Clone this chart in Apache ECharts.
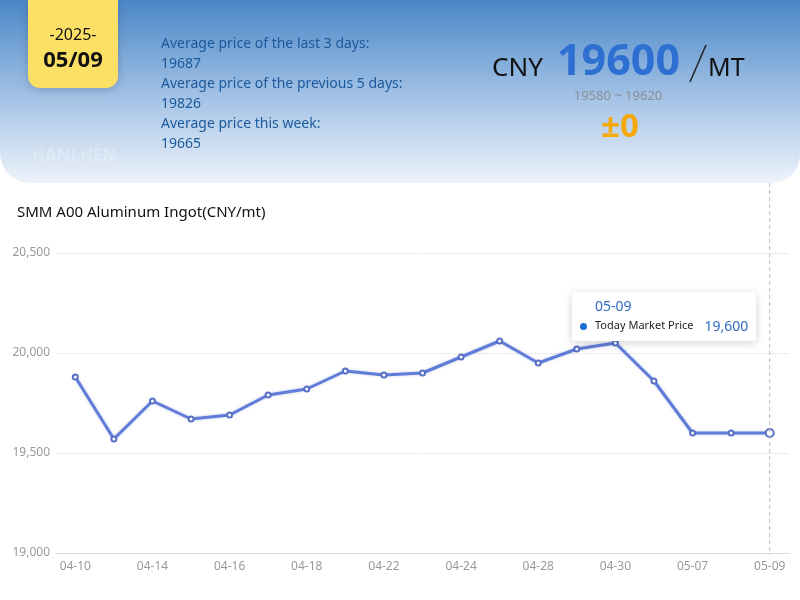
<!DOCTYPE html>
<html>
<head>
<meta charset="utf-8">
<style>
  html, body { margin: 0; padding: 0; background: #fff; }
  #main { width: 800px; height: 600px; }
</style>
<script src="https://cdn.jsdelivr.net/npm/echarts@6/dist/echarts.min.js"></script>
</head>
<body>
<div id="main"></div>
<script>
// trading days shown on the axis
const dates = ['04-10', '04-11', '04-14', '04-15', '04-16', '04-17', '04-18', '04-21', '04-22', '04-23',
  '04-24', '04-25', '04-28', '04-29', '04-30', '05-06', '05-07', '05-08', '05-09']
const prices = [19880, 19570, 19760, 19670, 19690, 19790, 19820, 19910, 19890, 19900,
  19980, 20060, 19950, 20020, 20050, 19860, 19600, 19600, 19600]
const yTicks = [19000, 19500, 20000, 20500]

const infoLines = [
  'Average price of the last 3 days:', '19687',
  'Average price of the previous 5 days:', '19826',
  'Average price this week:', '19665'
]

const font = '"Noto Sans", sans-serif'
const chart = echarts.init(document.getElementById('main'))

const headerGraphics = [
  {
    type: 'rect', z: 10,
    shape: { x: 0, y: 0, width: 800, height: 183, r: [0, 0, 28, 30] },
    style: {
      fill: new echarts.graphic.LinearGradient(0, 0, 0, 1, [
        { offset: 0, color: '#4a87c7' },
        { offset: 0.55, color: '#a6c4e6' },
        { offset: 1, color: '#eef3fa' }
      ])
    }
  },
  {
    type: 'text', z: 11, left: 32, top: 148,
    style: { text: 'HANLHEN', font: 'bold 17px ' + font, fill: 'rgba(255,255,255,0.22)' }
  },
  {
    type: 'rect', z: 12,
    shape: { x: 28, y: 0, width: 90, height: 88, r: [0, 0, 12, 12] },
    style: { fill: '#fce066', shadowBlur: 8, shadowColor: 'rgba(0,0,0,0.18)', shadowOffsetY: 2 }
  },
  {
    type: 'text', z: 13, x: 73, y: 35,
    style: { text: '-2025-', font: '16px ' + font, fill: '#111', align: 'center', verticalAlign: 'middle' }
  },
  {
    type: 'text', z: 13, x: 73, y: 61,
    style: { text: '05/09', font: 'bold 22px ' + font, fill: '#111', align: 'center', verticalAlign: 'middle' }
  },
  {
    type: 'text', z: 13, x: 492, y: 69,
    style: { text: 'CNY', font: '26px ' + font, fill: '#111', verticalAlign: 'middle' }
  },
  {
    type: 'text', z: 13, x: 557, y: 63,
    style: { text: '19600', font: 'bold 43px ' + font, fill: '#2e6fd2', verticalAlign: 'middle' }
  },
  {
    type: 'line', z: 13,
    shape: { x1: 690, y1: 82, x2: 706, y2: 45 },
    style: { stroke: '#222', lineWidth: 1.5 }
  },
  {
    type: 'text', z: 13, x: 708, y: 69,
    style: { text: 'MT', font: '25px ' + font, fill: '#111', verticalAlign: 'middle' }
  },
  {
    type: 'text', z: 13, x: 618, y: 96,
    style: { text: '19580 ~ 19620', font: '13px ' + font, fill: '#8a8f96', align: 'center', verticalAlign: 'middle' }
  },
  {
    type: 'text', z: 13, x: 620, y: 128,
    style: { text: '±0', font: 'bold 33px ' + font, fill: '#f5a90a', align: 'center', verticalAlign: 'middle' }
  },
  {
    type: 'text', z: 13, x: 17, y: 213,
    style: { text: 'SMM A00 Aluminum Ingot(CNY/mt)', font: '15px ' + font, fill: '#111', verticalAlign: 'middle' }
  }
]

infoLines.forEach(function (t, i) {
  headerGraphics.push({
    type: 'text', z: 13, x: 161, y: 44 + i * 20,
    style: { text: t, font: '14px ' + font, fill: '#1b5a9c', verticalAlign: 'middle' }
  })
})

const option = {
  animation: false,
  textStyle: { fontFamily: font },
  grid: { left: 56, right: 11, top: 253, bottom: 47 },
  tooltip: {
    trigger: 'axis',
    alwaysShowContent: true,
    axisPointer: { type: 'none' },
    position: [572, 292],
    padding: [5, 8, 5, 8],
    borderWidth: 0,
    backgroundColor: '#fff',
    extraCssText: 'box-shadow:0 2px 10px rgba(0,0,0,0.18);border-radius:4px;',
    formatter: function (params) {
      const p = params[0]
      return '<div style="font-family:' + font.replace(/"/g, "'") + ';line-height:1.35">' +
        '<div style="color:#2f6bc4;font-size:14px;padding-left:15px">' + p.name + '</div>' +
        '<div style="font-size:11px;color:#222;margin-top:1px">' +
        '<span style="display:inline-block;width:7px;height:7px;border-radius:50%;background:#1a6fd0;margin-right:8px;vertical-align:middle"></span>' +
        'Today Market Price' +
        '<span style="color:#2f6bc4;font-size:14px;margin-left:11px;vertical-align:middle">' +
        p.value.toLocaleString('en-US') + '</span></div></div>'
    }
  },
  xAxis: {
    type: 'category',
    data: dates,
    boundaryGap: true,
    axisLine: { lineStyle: { color: '#dcdcdc' } },
    axisTick: { lineStyle: { color: '#888' }, length: 4 },
    axisLabel: { interval: 1, color: '#999', fontSize: 12, margin: 8 }
  },
  yAxis: {
    type: 'value',
    min: yTicks[0],
    max: yTicks[yTicks.length - 1],
    interval: yTicks[1] - yTicks[0],
    axisLabel: {
      color: '#999', fontSize: 12, margin: 6,
      formatter: function (v) { return v.toLocaleString('en-US') }
    },
    splitLine: { lineStyle: { color: '#ececec' } }
  },
  graphic: headerGraphics,
  series: [{
    name: 'Today Market Price',
    type: 'line',
    data: prices,
    symbol: 'emptyCircle',
    symbolSize: 5,
    color: '#5871c6',
    lineStyle: { width: 3, color: '#5871c6', shadowColor: 'rgba(88,113,198,0.35)', shadowBlur: 3 },
    itemStyle: { color: '#5871c6', borderWidth: 1.5 },
    emphasis: { scale: 1.6 }
  }]
}

chart.setOption(option)

// dashed pointer line for the last day, running up to the header
const lastIdx = dates.length - 1
const px = chart.convertToPixel({ xAxisIndex: 0 }, dates[lastIdx])
const yBottom = chart.convertToPixel({ yAxisIndex: 0 }, yTicks[0])
chart.setOption({
  graphic: headerGraphics.concat([{
    type: 'line', z: 5,
    shape: { x1: px, y1: 183, x2: px, y2: yBottom + 2 },
    style: { stroke: '#bbb', lineWidth: 1, lineDash: [4, 3] }
  }])
})

chart.dispatchAction({ type: 'showTip', seriesIndex: 0, dataIndex: lastIdx })
</script>
</body>
</html>
